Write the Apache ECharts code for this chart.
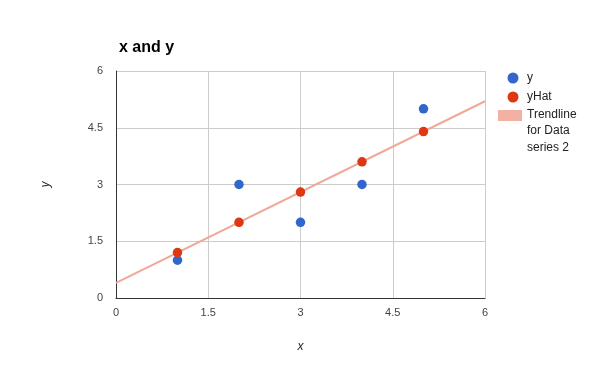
<!DOCTYPE html>
<html><head><meta charset="utf-8">
<script src="https://cdn.jsdelivr.net/npm/echarts@6/dist/echarts.min.js"></script>
<style>html,body{margin:0;padding:0;background:#fff}#c{width:600px;height:371px}</style>
</head><body><div id="c"></div>
<script>
var xVals = [1, 2, 3, 4, 5];
var yVals = [1, 3, 2, 3, 5];
var yHatVals = [1.2, 2, 2.8, 3.6, 4.4];
var trendX = [0, 6];
var trendY = [0.4, 5.2];
var tickVals = [0, 1.5, 3, 4.5, 6];
var trendLegendLines = ['Trendline', 'for Data', 'series 2'];

function pairs(a, b) { return a.map(function (v, i) { return [v, b[i]]; }); }
var trendName = 'Trendline for Data series 2';
var FONT = 'Arial, Liberation Sans';
var chart = echarts.init(document.getElementById('c'));
chart.setOption({
  animation: false,
  title: { text: 'x and y', left: 114, top: 35, textStyle: { fontFamily: FONT, fontSize: 16, fontWeight: 'bold', color: '#000' } },
  grid: { left: 116, right: 115, top: 71, bottom: 73 },
  legend: {
    data: ['y', 'yHat'], orient: 'vertical', left: 502.5, top: 67, itemWidth: 11, itemHeight: 11, itemGap: 7, icon: 'circle',
    textStyle: { fontFamily: FONT, fontSize: 12, color: '#222', padding: [0, 0, 0, 3.5] }
  },
  graphic: [
    { type: 'rect', left: 498, top: 110, shape: { width: 24, height: 11 }, style: { fill: '#f3b1a4' } },
    { type: 'text', left: 527, top: 106, style: { text: trendLegendLines.join('\n'), font: '12px ' + FONT, fill: '#222', lineHeight: 16.5 } }
  ],
  xAxis: {
    type: 'value', min: 0, max: 6, interval: 1.5,
    name: 'x', nameLocation: 'middle', nameGap: 43,
    nameTextStyle: { fontStyle: 'italic', fontSize: 12, color: '#222', fontFamily: FONT },
    axisLine: { lineStyle: { color: '#333', width: 1 } }, axisTick: { show: false },
    axisLabel: { color: '#444', fontSize: 11, fontFamily: FONT, margin: 9, formatter: function (v) { return tickVals.indexOf(v) >= 0 ? String(v) : ''; } },
    splitLine: { lineStyle: { color: '#ccc' } }
  },
  yAxis: {
    type: 'value', min: 0, max: 6, interval: 1.5,
    name: 'y', nameLocation: 'middle', nameGap: 64, nameRotate: 90,
    nameTextStyle: { fontStyle: 'italic', fontSize: 12, color: '#222', fontFamily: FONT },
    axisLine: { show: true, lineStyle: { color: '#333', width: 1 } }, axisTick: { show: false },
    axisLabel: { color: '#444', fontSize: 11, fontFamily: FONT, margin: 13 },
    splitLine: { lineStyle: { color: '#ccc' } }
  },
  series: [{
    name: trendName, type: 'line', data: pairs(trendX, trendY), showSymbol: false, symbol: 'none',
    color: '#f0a898', lineStyle: { color: '#f0a898', width: 2 }, z: 1
  }, {
    name: 'y', type: 'scatter', data: pairs(xVals, yVals), symbolSize: 9.5, color: '#3366cc', itemStyle: { opacity: 1 }, z: 3
  }, {
    name: 'yHat', type: 'scatter', data: pairs(xVals, yHatVals), symbolSize: 9.5, color: '#dc3912', itemStyle: { opacity: 1 }, z: 4
  }]
});
</script></body></html>
